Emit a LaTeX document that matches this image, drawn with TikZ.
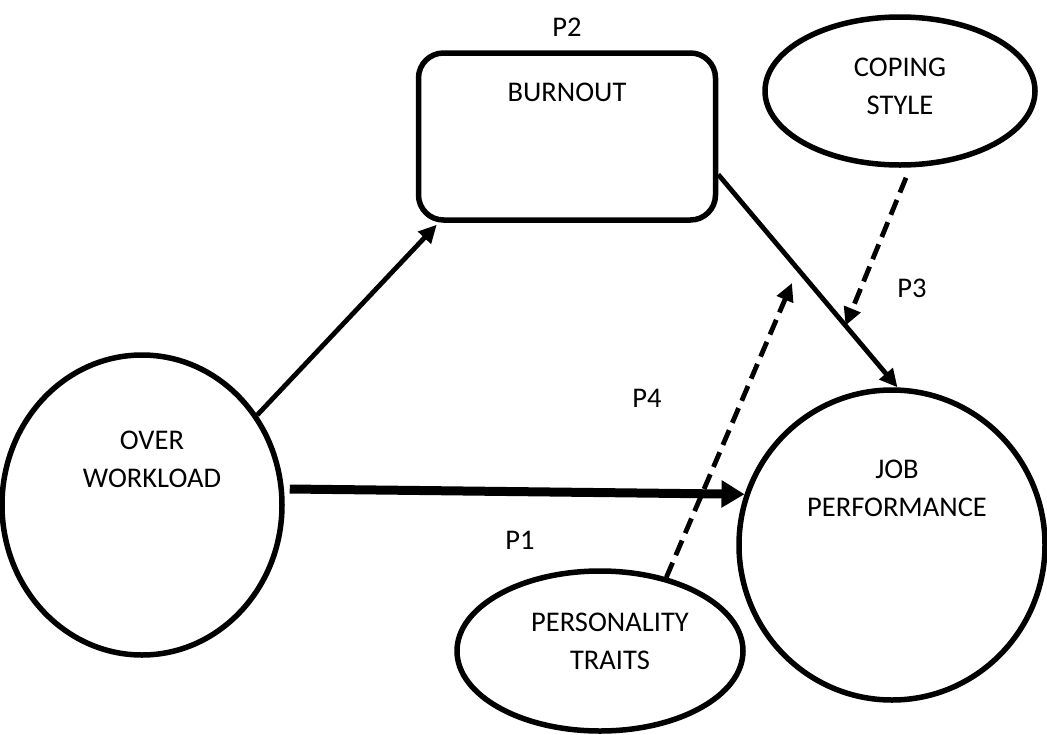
\documentclass[tikz,border=0pt]{standalone}
\usepackage{fontspec}
\setmainfont{Carlito}
\usetikzlibrary{shapes.geometric,arrows.meta,calc}
\begin{document}
\begin{tikzpicture}[x=1pt,y=-1pt,
  outline/.style={draw,line width=5.5pt,inner sep=0pt},
  ell/.style={outline,ellipse},
  lbl/.style={font=\fontsize{28.5}{38}\selectfont,align=center,inner sep=0pt},
  conn/.style={line width=4.8pt,-{Triangle[length=18pt,width=17pt]}},
  dconn/.style={conn,dash pattern=on 16pt off 8pt},
  tconn/.style={line width=9pt,-{Triangle[length=23pt,width=26pt]}}]
\useasboundingbox (0,0) rectangle (1047,734);
% shapes
\node[ell,minimum width=280,minimum height=300] (over) at (142,505) {};
\node[ell,minimum width=306,minimum height=310] (job) at (892,545) {};
\node[outline,rounded corners=25pt,minimum width=297,minimum height=167] (burn) at (567,136.5) {};
\node[ell,minimum width=270,minimum height=148] (cope) at (900,91) {};
\node[ell,minimum width=286,minimum height=160] (pers) at (600,651) {};
% texts
\node[lbl] (overT) at (152,459) {OVER\\WORKLOAD};
\node[lbl] (jobT) at (897,488) {JOB\\PERFORMANCE};
\node[lbl] (burnT) at (567,92) {BURNOUT};
\node[lbl] (copeT) at (900,86) {COPING\\STYLE};
\node[lbl] (persT) at (610,641) {PERSONALITY\\TRAITS};
\node[lbl] (p1) at (520,540) {P1};
\node[lbl] (p2) at (567,27) {P2};
\node[lbl] (p3) at (912,288) {P3};
\node[lbl] (p4) at (647,398) {P4};
% connectors
\draw[conn] (over.38) -- ([xshift=21pt,yshift=-2pt]burn.south west);
\draw[tconn] ([xshift=5pt,yshift=16pt]over.east) -- (job.161);
\draw[conn] ([yshift=-38pt]burn.east) -- (job.88) coordinate[pos=0.71] (m3);
\draw[dconn] ([xshift=6pt,yshift=-10pt]cope.south) -- (m3);
\coordinate (p4end) at (792,283);
\draw[dconn] (pers.48) -- (p4end);
\end{tikzpicture}
\end{document}
